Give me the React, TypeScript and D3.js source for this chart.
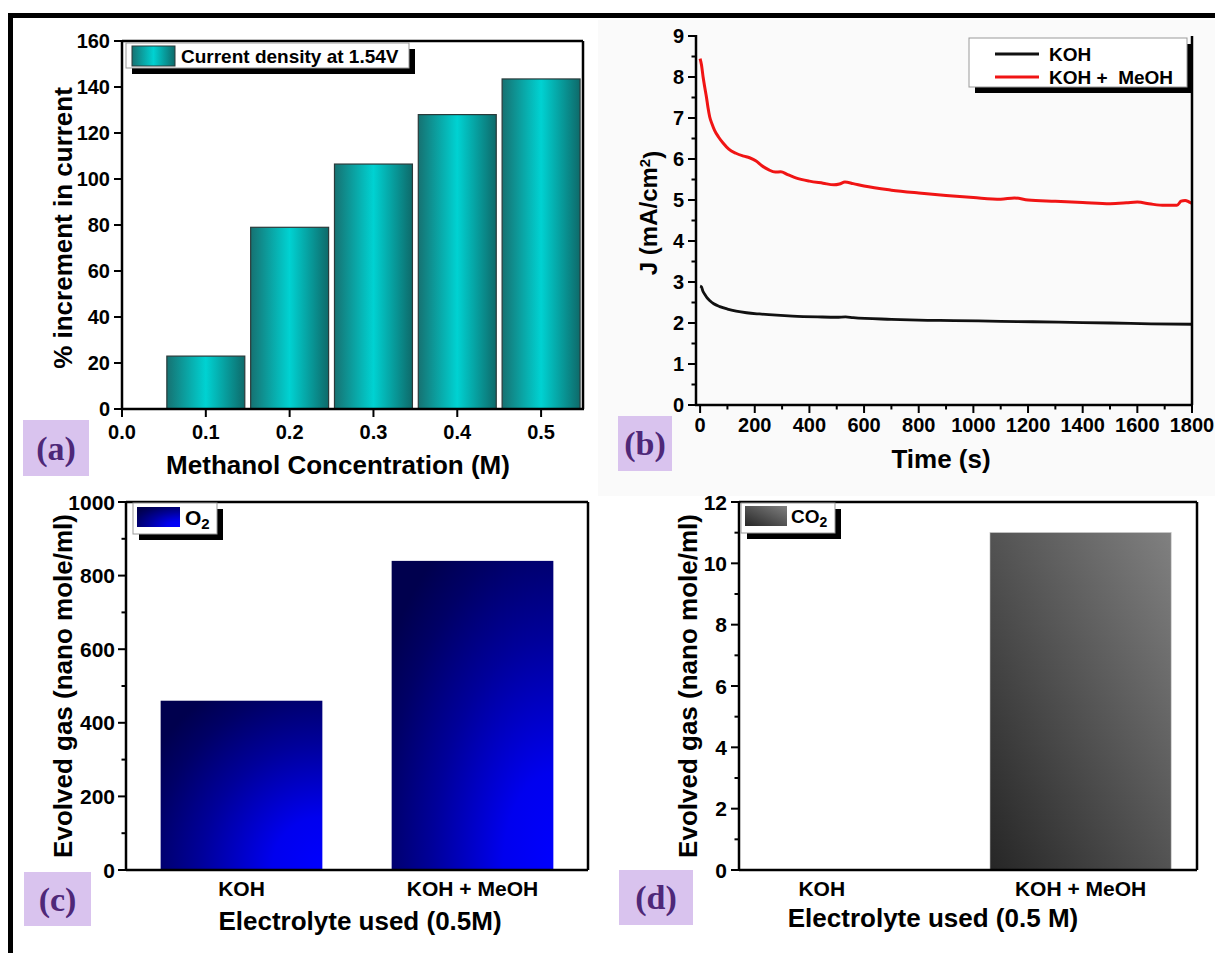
import React from 'react';
import * as d3 from 'd3';

// ---------- Data ----------
const concentrations = [0.1, 0.2, 0.3, 0.4, 0.5];
const incrementPct = [23, 79, 106.5, 128, 143.5];
const concTicks = [0, 0.1, 0.2, 0.3, 0.4, 0.5];
const incTicks = [0, 20, 40, 60, 80, 100, 120, 140, 160];

const timeKOH = [0, 5, 10, 17, 25, 35, 50, 72, 100, 132, 170, 217, 280, 338, 430, 500, 532, 560, 700, 800, 929, 1100, 1217, 1400, 1505, 1650, 1800];
const jKOH = [2.9, 2.88, 2.78, 2.7, 2.62, 2.55, 2.47, 2.4, 2.34, 2.29, 2.25, 2.22, 2.19, 2.17, 2.15, 2.14, 2.15, 2.13, 2.09, 2.07, 2.06, 2.04, 2.03, 2.01, 2.0, 1.98, 1.97];
const timeMeOH = [0, 5, 11, 17, 23, 29, 35, 44, 53, 68, 84, 105, 131, 160, 181, 205, 225, 250, 275, 295, 320, 350, 400, 450, 490, 510, 530, 560, 600, 700, 800, 900, 1000, 1100, 1150, 1200, 1300, 1400, 1500, 1560, 1600, 1650, 1700, 1745, 1760, 1775, 1790, 1800];
const jMeOH = [8.45, 8.3, 8.0, 7.75, 7.52, 7.25, 7.03, 6.85, 6.7, 6.53, 6.39, 6.24, 6.14, 6.07, 6.03, 5.95, 5.84, 5.74, 5.68, 5.69, 5.62, 5.54, 5.46, 5.41, 5.37, 5.39, 5.44, 5.4, 5.34, 5.24, 5.17, 5.11, 5.06, 5.02, 5.05, 5.0, 4.97, 4.94, 4.91, 4.93, 4.95, 4.9, 4.87, 4.87, 4.97, 4.99, 4.95, 4.92];
const timeTicks = [0, 200, 400, 600, 800, 1000, 1200, 1400, 1600, 1800];
const timeMinor = [100, 300, 500, 700, 900, 1100, 1300, 1500, 1700];
const jTicks = [0, 1, 2, 3, 4, 5, 6, 7, 8, 9];
const jMinor = [0.5, 1.5, 2.5, 3.5, 4.5, 5.5, 6.5, 7.5, 8.5];

const electrolytes = ['KOH', 'KOH + MeOH'];
const o2Values = [460, 840];
const o2Ticks = [0, 200, 400, 600, 800, 1000];
const o2Minor = [100, 300, 500, 700, 900];
const co2Values = [0, 11];
const co2Ticks = [0, 2, 4, 6, 8, 10, 12];
const co2Minor = [1, 3, 5, 7, 9, 11];

// ---------- Styles ----------
const FONT = "'Liberation Sans', Arial, Helvetica, sans-serif";
const SERIF = "'Liberation Serif', 'Times New Roman', serif";
const AX = 2.5;

type Lin = d3.ScaleLinear<number, number>;

function YAxis({ scale, x, ticks, minor = [], fmt = (v: number) => String(v), size = 20, gap = 12 }:
  { scale: Lin; x: number; ticks: number[]; minor?: number[]; fmt?: (v: number) => string; size?: number; gap?: number }) {
  const [r0, r1] = scale.range();
  return (
    <g>
      <line x1={x} x2={x} y1={r0 + 1} y2={r1 - 1} stroke="#000" strokeWidth={AX} />
      {ticks.map((t) => (
        <g key={'M' + t}>
          <line x1={x - 8} x2={x} y1={scale(t)} y2={scale(t)} stroke="#000" strokeWidth={2} />
          <text x={x - gap} y={scale(t)} dy="0.36em" textAnchor="end" fontFamily={FONT} fontWeight="bold" fontSize={size}>{fmt(t)}</text>
        </g>
      ))}
      {minor.map((t) => (
        <line key={'m' + t} x1={x - 4.5} x2={x} y1={scale(t)} y2={scale(t)} stroke="#000" strokeWidth={2} />
      ))}
    </g>
  );
}

function XAxis({ scale, y, ticks, minor = [], fmt = (v: number) => String(v), size = 20, gap = 14, showTicks = true }:
  { scale: Lin; y: number; ticks: number[]; minor?: number[]; fmt?: (v: number) => string; size?: number; gap?: number; showTicks?: boolean }) {
  const [r0, r1] = scale.range();
  return (
    <g>
      <line x1={r0 - 1} x2={r1 + 1} y1={y} y2={y} stroke="#000" strokeWidth={AX} />
      {ticks.map((t) => (
        <g key={'M' + t}>
          {showTicks && <line x1={scale(t)} x2={scale(t)} y1={y} y2={y + 8} stroke="#000" strokeWidth={2} />}
          <text x={scale(t)} y={y + gap} dy="0.72em" textAnchor="middle" fontFamily={FONT} fontWeight="bold" fontSize={size}>{fmt(t)}</text>
        </g>
      ))}
      {minor.map((t) => (
        <line key={'m' + t} x1={scale(t)} x2={scale(t)} y1={y} y2={y + 4.5} stroke="#000" strokeWidth={2} />
      ))}
    </g>
  );
}

function PanelTag({ x, y, w, h, label }: { x: number; y: number; w: number; h: number; label: string }) {
  return (
    <g>
      <rect x={x} y={y} width={w} height={h} fill="#d9c3ee" />
      <text x={x + w / 2} y={y + h / 2} dy="0.35em" textAnchor="middle" fontFamily={SERIF} fontWeight="bold" fontSize={34} fill="#4e2878">{label}</text>
    </g>
  );
}

function LegendBox({ x, y, w, h }: { x: number; y: number; w: number; h: number }) {
  return (
    <g>
      <rect x={x + 6} y={y + 6} width={w} height={h} fill="#000" />
      <rect x={x} y={y} width={w} height={h} fill="#fff" stroke="#999" strokeWidth={1} />
    </g>
  );
}

export default function App() {
  // Panel a
  const xA = d3.scaleLinear().domain([0, 0.55]).range([122, 583]);
  const yA = d3.scaleLinear().domain([0, 160]).range([409, 41]);
  const barWA = xA(0.093) - xA(0);

  // Panel b
  const xB = d3.scaleLinear().domain([-15, 1800]).range([696, 1192]);
  const yB = d3.scaleLinear().domain([0, 9]).range([405, 36]);
  const line = d3.line<[number, number]>().x((d) => xB(d[0])).y((d) => yB(d[1])).curve(d3.curveMonotoneX);
  const kohPts = d3.zip(timeKOH, jKOH) as [number, number][];
  const meohPts = d3.zip(timeMeOH, jMeOH) as [number, number][];

  // Panel c
  const xC = d3.scaleLinear().domain([0.5, 2.5]).range([126, 588]);
  const yC = d3.scaleLinear().domain([0, 1000]).range([870, 502]);
  // Panel d
  const xD = d3.scaleLinear().domain([0.68, 2.45]).range([739, 1197]);
  const yD = d3.scaleLinear().domain([0, 12]).range([870, 502]);
  const barW = 0.7;

  return (
    <svg width={1215} height={953} viewBox="0 0 1215 953" style={{ position: 'absolute', left: 0, top: 0, background: '#fff' }}>
      <defs>
        <linearGradient id="teal" x1="0" y1="0" x2="1" y2="0">
          <stop offset="0" stopColor="#167272" />
          <stop offset="0.5" stopColor="#00d2d2" />
          <stop offset="1" stopColor="#0e6a6a" />
        </linearGradient>
        <radialGradient id="blue" cx="1" cy="1" r="1.25" fx="1" fy="1">
          <stop offset="0" stopColor="#0000ff" />
          <stop offset="0.25" stopColor="#0000ee" />
          <stop offset="0.6" stopColor="#00009a" />
          <stop offset="0.85" stopColor="#000066" />
          <stop offset="1" stopColor="#00004e" />
        </radialGradient>
        <linearGradient id="gray" x1="0" y1="1" x2="1" y2="0">
          <stop offset="0" stopColor="#262626" />
          <stop offset="1" stopColor="#808080" />
        </linearGradient>
      </defs>

      {/* backgrounds */}
      <rect x={598} y={20} width={617} height={452} fill="#fafafa" />
      <rect x={598} y={472} width={617} height={24} fill="#fafafa" />

      {/* figure border */}
      <rect x={8} y={13} width={1207} height={5} fill="#000" />
      <rect x={8} y={13} width={5} height={940} fill="#000" />

      {/* ---------- Panel a ---------- */}
      <g>
        {concentrations.map((c, i) => (
          <rect key={c} x={xA(c) - barWA / 2} y={yA(incrementPct[i])} width={barWA} height={yA(0) - yA(incrementPct[i])}
            fill="url(#teal)" stroke="#2a3a3a" strokeWidth={1.2} />
        ))}
        <line x1={xA(0)} x2={xA(0.55)} y1={yA(160)} y2={yA(160)} stroke="#000" strokeWidth={AX} />
        <line x1={xA(0.55)} x2={xA(0.55)} y1={yA(160)} y2={yA(0)} stroke="#000" strokeWidth={AX} />
        <YAxis scale={yA} x={xA(0)} ticks={incTicks} gap={12} />
        <XAxis scale={xA} y={yA(0)} ticks={concTicks} fmt={d3.format('.1f')} gap={16} />
        <LegendBox x={126} y={43} w={283} h={25} />
        <rect x={132} y={46} width={43} height={20} fill="url(#teal)" stroke="#2a3a3a" strokeWidth={1} />
        <text x={181} y={56} dy="0.36em" fontFamily={FONT} fontWeight="bold" fontSize={19}>Current density at 1.54V</text>
        <text transform={`translate(63,228) rotate(-90)`} textAnchor="middle" dy="0.36em" fontFamily={FONT} fontWeight="bold" fontSize={26}>% increment in current</text>
        <text x={338} y={465} dy="0.36em" textAnchor="middle" fontFamily={FONT} fontWeight="bold" fontSize={26}>Methanol Concentration (M)</text>
        <PanelTag x={23} y={420} w={66} h={56} label="(a)" />
      </g>

      {/* ---------- Panel b ---------- */}
      <g>
        <path d={line(kohPts) || ''} fill="none" stroke="#111" strokeWidth={2.8} />
        <path d={line(meohPts) || ''} fill="none" stroke="#f01414" strokeWidth={3} />
        <line x1={1192} x2={1192} y1={36} y2={405} stroke="#000" strokeWidth={AX} />
        <YAxis scale={yB} x={696} ticks={jTicks} minor={jMinor} gap={12} />
        <XAxis scale={xB} y={405} ticks={timeTicks} minor={timeMinor} gap={13} />
        <LegendBox x={969} y={38} w={218} h={49} />
        <line x1={995} x2={1039} y1={54} y2={54} stroke="#111" strokeWidth={2.8} />
        <line x1={995} x2={1039} y1={77} y2={77} stroke="#f01414" strokeWidth={3} />
        <text x={1049} y={54} dy="0.36em" fontFamily={FONT} fontWeight="bold" fontSize={19}>KOH</text>
        <text x={1049} y={77} dy="0.36em" fontFamily={FONT} fontWeight="bold" fontSize={19} xmlSpace="preserve">KOH +  MeOH</text>
        <text transform={`translate(648,213) rotate(-90)`} textAnchor="middle" dy="0.36em" fontFamily={FONT} fontWeight="bold" fontSize={24}>
          J (mA/cm<tspan dy="-0.45em" fontSize={15}>2</tspan><tspan dy="0.45em">)</tspan>
        </text>
        <text x={941} y={459} dy="0.36em" textAnchor="middle" fontFamily={FONT} fontWeight="bold" fontSize={26}>Time (s)</text>
        <PanelTag x={618} y={416} w={54} h={55} label="(b)" />
      </g>

      {/* ---------- Panel c ---------- */}
      <g>
        {electrolytes.map((e, i) => (
          <rect key={e} x={xC(i + 1 - barW / 2)} y={yC(o2Values[i])} width={xC(i + 1 + barW / 2) - xC(i + 1 - barW / 2)}
            height={yC(0) - yC(o2Values[i])} fill="url(#blue)" />
        ))}
        <line x1={xC(0.5)} x2={xC(2.5)} y1={yC(1000)} y2={yC(1000)} stroke="#000" strokeWidth={AX} />
        <line x1={xC(2.5)} x2={xC(2.5)} y1={yC(1000)} y2={yC(0)} stroke="#000" strokeWidth={AX} />
        <YAxis scale={yC} x={xC(0.5)} ticks={o2Ticks} minor={o2Minor} gap={11} size={21} />
        <line x1={xC(0.5)} x2={xC(2.5)} y1={yC(0)} y2={yC(0)} stroke="#000" strokeWidth={AX} />
        {electrolytes.map((e, i) => (
          <text key={e} x={xC(i + 1)} y={888} dy="0.36em" textAnchor="middle" fontFamily={FONT} fontWeight="bold" fontSize={21}>{e}</text>
        ))}
        <LegendBox x={133} y={503} w={84} h={31} />
        <rect x={137} y={507} width={43} height={20} fill="url(#blue)" />
        <text x={185} y={517} dy="0.36em" fontFamily={FONT} fontWeight="bold" fontSize={21}>O<tspan dy="0.3em" fontSize={15}>2</tspan></text>
        <text transform={`translate(63,686) rotate(-90)`} textAnchor="middle" dy="0.36em" fontFamily={FONT} fontWeight="bold" fontSize={26}>Evolved gas (nano mole/ml)</text>
        <text x={360} y={921} dy="0.36em" textAnchor="middle" fontFamily={FONT} fontWeight="bold" fontSize={26}>Electrolyte used (0.5M)</text>
        <PanelTag x={24} y={872} w={67} h={54} label="(c)" />
      </g>

      {/* ---------- Panel d ---------- */}
      <g>
        {electrolytes.map((e, i) => (
          co2Values[i] > 0 ? (
            <rect key={e} x={xD(i + 1 - barW / 2)} y={yD(co2Values[i])} width={xD(i + 1 + barW / 2) - xD(i + 1 - barW / 2)}
              height={yD(0) - yD(co2Values[i])} fill="url(#gray)" stroke="#bbb" strokeWidth={0.6} />
          ) : null
        ))}
        <line x1={xD(0.68)} x2={xD(2.45)} y1={yD(12)} y2={yD(12)} stroke="#000" strokeWidth={AX} />
        <line x1={xD(2.45)} x2={xD(2.45)} y1={yD(12)} y2={yD(0)} stroke="#000" strokeWidth={AX} />
        <YAxis scale={yD} x={xD(0.68)} ticks={co2Ticks} minor={co2Minor} gap={12} size={21} />
        <line x1={xD(0.68)} x2={xD(2.45)} y1={yD(0)} y2={yD(0)} stroke="#000" strokeWidth={AX} />
        {electrolytes.map((e, i) => (
          <text key={e} x={xD(i + 1)} y={888} dy="0.36em" textAnchor="middle" fontFamily={FONT} fontWeight="bold" fontSize={21}>{e}</text>
        ))}
        <LegendBox x={741} y={503} w={94} h={30} />
        <rect x={745} y={506} width={42} height={20} fill="url(#gray)" />
        <text x={791} y={516} dy="0.36em" fontFamily={FONT} fontWeight="bold" fontSize={19}>CO<tspan dy="0.3em" fontSize={14}>2</tspan></text>
        <text transform={`translate(688,686) rotate(-90)`} textAnchor="middle" dy="0.36em" fontFamily={FONT} fontWeight="bold" fontSize={26}>Evolved gas (nano mole/ml)</text>
        <text x={933} y={918} dy="0.36em" textAnchor="middle" fontFamily={FONT} fontWeight="bold" fontSize={26}>Electrolyte used (0.5 M)</text>
        <PanelTag x={619} y={870} w={74} h={55} label="(d)" />
      </g>
    </svg>
  );
}
